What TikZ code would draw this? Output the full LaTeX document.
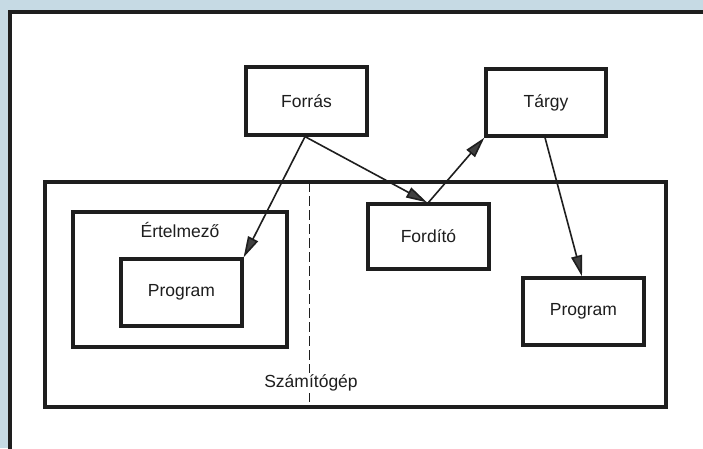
\documentclass[tikz,border=0pt]{standalone}
\usepackage{fontspec}
\setmainfont{Liberation Sans}
\usetikzlibrary{arrows.meta}
\definecolor{bgblue}{RGB}{198,218,228}
\definecolor{ink}{RGB}{30,30,30}
\begin{document}
\begin{tikzpicture}[x=1pt,y=-1pt,
  box/.style={draw=ink,line width=3.2pt,fill=white,inner sep=0pt},
  lbl/.style={font=\fontsize{17.5}{20}\selectfont,text=ink,inner sep=0pt},
  arr/.style={draw=ink,line width=1.6pt,-{Triangle[length=21pt,width=11pt,fill=ink!85]}}
]
\useasboundingbox (0,0) rectangle (703,448);
\fill[bgblue] (0,0) rectangle (703,448);
\draw[draw=ink,line width=3.5pt,fill=white] (10,12) rectangle (725,475);

% computer
\node[box,minimum width=621pt,minimum height=225pt] (comp) at (355.5,294.5) {};
\coordinate (dtop) at (309.5,182);
\coordinate (dbot) at (309.5,407);
\draw[ink,line width=1.2pt,dash pattern=on 10pt off 4pt] (dtop) -- (dbot);
\node[lbl,fill=white,inner sep=2pt] (complbl) at (311,383) {Számítógép};

% interpreter
\node[box,minimum width=214pt,minimum height=135pt] (interp) at (180,279.5) {};
\node[lbl] (interplbl) at (180,230) {Értelmező};
\node[box,lbl,minimum width=121pt,minimum height=67pt] (prog1) at (181.5,292.5) {Program};

% compiler
\node[box,lbl,minimum width=121pt,minimum height=65pt] (fordito) at (428.5,236.5) {Fordító};
\node[box,lbl,minimum width=121pt,minimum height=67pt] (prog2) at (583.5,311.5) {Program};

% source and object
\node[box,lbl,minimum width=121pt,minimum height=68pt] (forras) at (306.5,101) {Forrás};
\node[box,lbl,minimum width=120pt,minimum height=67pt] (targy) at (546,102.5) {Tárgy};

% arrows
\draw[arr] ([xshift=-1.5pt]forras.south) -- (prog1.north east);
\draw[arr] ([xshift=-1.5pt]forras.south) -- ([xshift=-1.5pt]fordito.north);
\draw[arr] (fordito.north) -- (targy.south west);
\draw[arr] ([xshift=-1pt]targy.south) -- ([xshift=-1.5pt]prog2.north);
\end{tikzpicture}
\end{document}
